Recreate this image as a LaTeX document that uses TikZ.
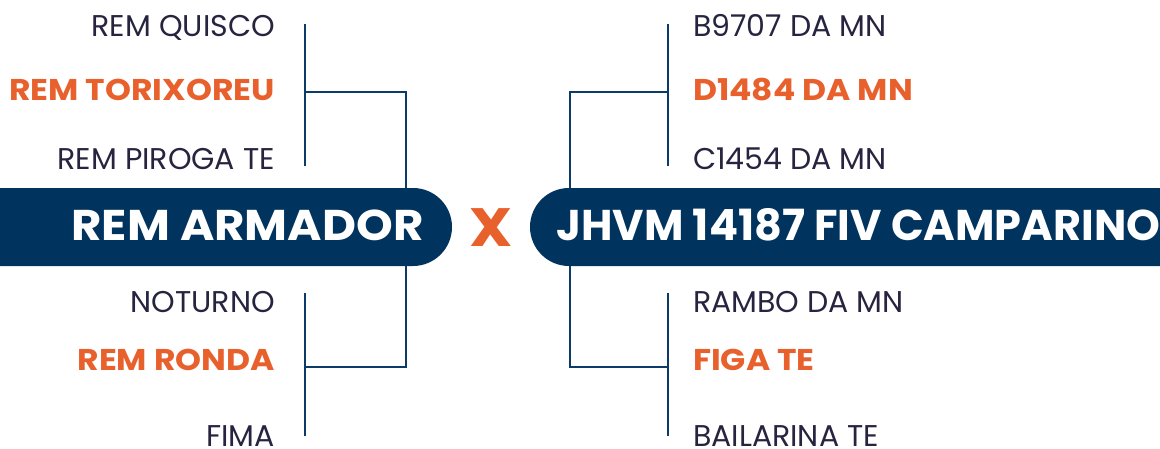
\documentclass[tikz,border=0pt]{standalone}
\usepackage{fontspec}
\setmainfont{Poppins}
\newfontfamily\widebold[FakeStretch=1.1]{Poppins Bold}
\newfontfamily\sirebold[FakeStretch=1.087]{Poppins Bold}
\newfontfamily\crossbold[FakeStretch=1.12]{Poppins Bold}
\definecolor{navy}{HTML}{00335E}
\definecolor{linenavy}{HTML}{0C3B67}
\definecolor{orng}{HTML}{E8602C}
\definecolor{txt}{HTML}{27243F}
\begin{document}
\begin{tikzpicture}[x=1pt,y=-1pt,
  lbl/.style={inner sep=0pt,font=\fontsize{30}{30}\selectfont,text=txt},
  hl/.style={inner sep=0pt,font=\widebold\fontsize{30}{30}\selectfont,text=orng},
  bannertxt/.style={inner sep=0pt,font=\fontsize{43}{43}\selectfont\bfseries,text=white},
  conn/.style={draw=linenavy,line width=2.2pt}]
\useasboundingbox (0,0) rectangle (1160,448);
\begin{scope}
\clip (0,0) rectangle (1160,448);
% banners
\fill[navy,rounded corners=39pt] (-100,188) rectangle (452,266);
\fill[navy,rounded corners=39pt] (530,188) rectangle (1260,266);
% connectors
\coordinate (la1) at (305,24);
\coordinate (la2) at (305,166);
\coordinate (lam) at (305,92);
\coordinate (lac) at (406,92);
\coordinate (lat) at (406,188);
\coordinate (lb1) at (305,293);
\coordinate (lb2) at (305,436);
\coordinate (lbm) at (305,367);
\coordinate (lbc) at (406,367);
\coordinate (lbt) at (406,266);
\coordinate (ra1) at (668,24);
\coordinate (ra2) at (668,166);
\coordinate (ram) at (668,92);
\coordinate (rac) at (570,92);
\coordinate (rat) at (570,188);
\coordinate (rb1) at (668,293);
\coordinate (rb2) at (668,436);
\coordinate (rbm) at (668,367);
\coordinate (rbc) at (570,367);
\coordinate (rbt) at (570,266);
\draw[conn] (la1) -- (la2);
\draw[conn] (lam) -- (lac) -- (lat);
\draw[conn] (lb1) -- (lb2);
\draw[conn] (lbm) -- (lbc) -- (lbt);
\draw[conn] (ra1) -- (ra2);
\draw[conn] (ram) -- (rac) -- (rat);
\draw[conn] (rb1) -- (rb2);
\draw[conn] (rbm) -- (rbc) -- (rbt);
% banner texts
\node[bannertxt,font=\sirebold\fontsize{43}{43}\selectfont,anchor=base] (sire) at (247.5,240) {REM ARMADOR};
\node[bannertxt,anchor=base] (dam) at (858.5,240) {JHVM 14187 FIV CAMPARINO};
\node[inner sep=0pt,anchor=base,font=\crossbold\fontsize{54}{54}\selectfont,text=orng] (cross) at (491,246) {X};
% left labels
\node[lbl,anchor=base east] (l1) at (275,36) {REM QUISCO};
\node[hl,anchor=base east] (l2) at (275,100) {REM TORIXOREU};
\node[lbl,anchor=base east] (l3) at (275,169) {REM PIROGA TE};
\node[lbl,anchor=base east] (l4) at (275,312) {NOTURNO};
\node[hl,anchor=base east] (l5) at (275,370) {REM RONDA};
\node[lbl,anchor=base east] (l6) at (275,446) {FIMA};
% right labels
\node[lbl,anchor=base west] (r1) at (693,36) {B9707 DA MN};
\node[hl,anchor=base west] (r2) at (693,100) {D1484 DA MN};
\node[lbl,anchor=base west] (r3) at (693,169) {C1454 DA MN};
\node[lbl,anchor=base west] (r4) at (693,312) {RAMBO DA MN};
\node[hl,anchor=base west] (r5) at (693,370) {FIGA TE};
\node[lbl,anchor=base west] (r6) at (693,446) {BAILARINA TE};
\end{scope}
\end{tikzpicture}
\end{document}
